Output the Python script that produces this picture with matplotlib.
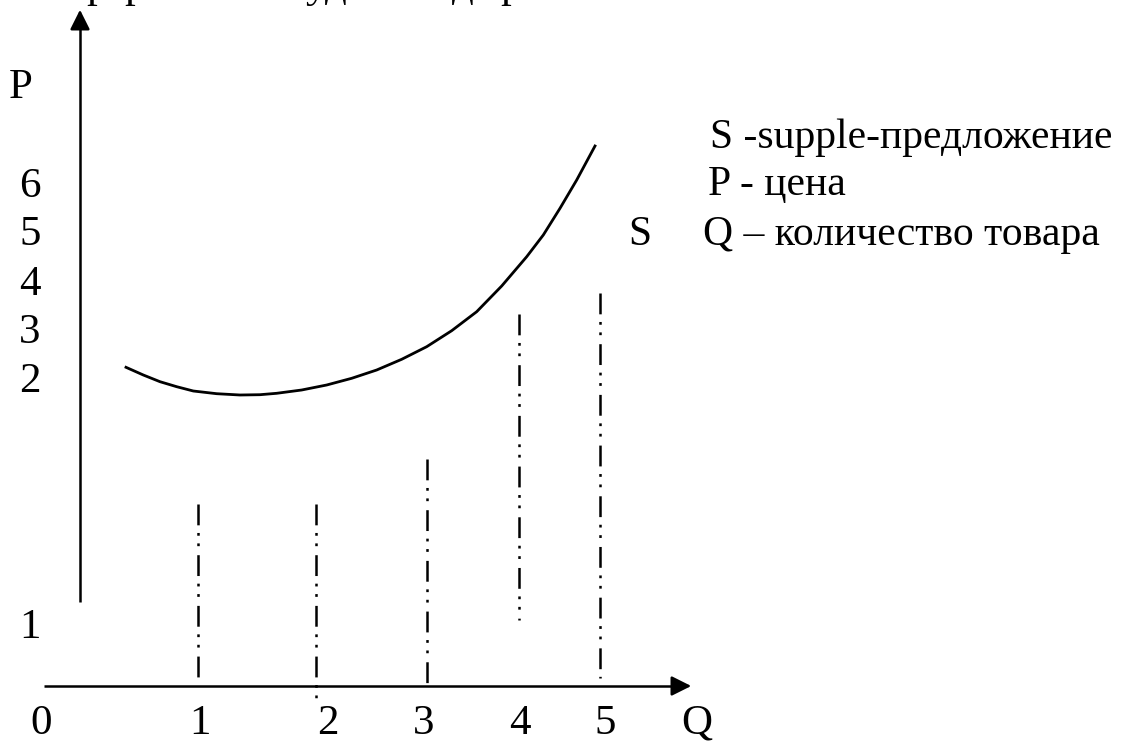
import numpy as np
import matplotlib.pyplot as plt

plt.rcParams['font.family'] = ['Liberation Serif', 'DejaVu Serif']
plt.rcParams['lines.scale_dashes'] = False

W, H = 1131, 742

# supply curve S (drawing units)
curve_x = [126.0, 143.3, 160.0, 176.7, 193.3, 216.7, 240.0, 260.0, 276.7, 301.7, 326.7,
           351.7, 376.7, 401.7, 426.7, 451.7, 476.7, 501.7, 526.7, 543.3, 560.0, 576.7, 595.0]
curve_y = [367.3, 375.0, 381.7, 386.7, 391.0, 393.7, 395.0, 394.7, 393.3, 390.0, 385.0,
           378.3, 370.0, 359.3, 346.7, 330.7, 311.7, 286.0, 256.7, 235.0, 208.3, 180.0, 146.0]

# dash-dot-dot drop lines at Q = 1..5
drop_x = [198, 316, 427, 519, 600]
drop_top = [504, 504, 459, 314, 293]
drop_bottom = [678, 698, 683, 620, 678]

# axis labels
p_labels = ['P', '6', '5', '4', '3', '2', '1']
p_label_x = [21, 30, 30, 30, 30, 30, 30]
p_label_y = [98, 197, 245, 295, 343, 392, 638]
q_labels = ['0', '1', '2', '3', '4', '5', 'Q']
q_label_x = [41, 200, 328, 424, 520, 605, 697]
q_label_y = 734

legend_lines = ['S -supple-предложение', 'P - цена', 'Q – количество товара']
legend_x = [710, 708, 703]
legend_y = [148, 195, 245]

# clipped title line at the very top of the scan
title_chars = ['р', 'р', 'у', 'д', 'д', 'р']
title_x = [86, 124, 305, 325, 452, 500]

fig = plt.figure(figsize=(W / 100, H / 100), dpi=100)
ax = fig.add_axes([0, 0, 1, 1])
ax.set_xlim(0, W)
ax.set_ylim(H, 0)
ax.axis('off')

fs = 30
lw = 1.8

# axes with arrows
ax.plot([44, 680], [686, 686], color='black', lw=lw, solid_capstyle='butt')
ax.annotate('', xy=(694, 686), xytext=(674, 686),
            arrowprops=dict(arrowstyle='-|>', color='black', lw=lw, mutation_scale=30))
ax.plot([80, 80], [602, 22], color='black', lw=lw, solid_capstyle='butt')
ax.annotate('', xy=(80, 7), xytext=(80, 27),
            arrowprops=dict(arrowstyle='-|>', color='black', lw=lw, mutation_scale=30))

# supply curve
ax.plot(curve_x, curve_y, color='black', lw=2.0, solid_joinstyle='round')

# drop lines
for x, t, b in zip(drop_x, drop_top, drop_bottom):
    ax.plot([x, x], [t, b], color='black', lw=lw,
            dashes=(15, 5.5, 2, 5.5, 2, 6.5), dash_capstyle='butt')

for s, x, y in zip(p_labels, p_label_x, p_label_y):
    ax.text(x, y, s, fontsize=31, ha='center', va='baseline')
for s, x in zip(q_labels, q_label_x):
    ax.text(x, q_label_y, s, fontsize=31, ha='center', va='baseline')

for s, x, y in zip(legend_lines, legend_x, legend_y):
    ax.text(x, y, s, fontsize=fs, ha='left', va='baseline')
ax.text(628, 245, 'S', fontsize=fs, ha='left', va='baseline')

for s, x in zip(title_chars, title_x):
    ax.text(x, -3, s, fontsize=31, ha='left', va='baseline')

fig.savefig('out.png', dpi=100)
